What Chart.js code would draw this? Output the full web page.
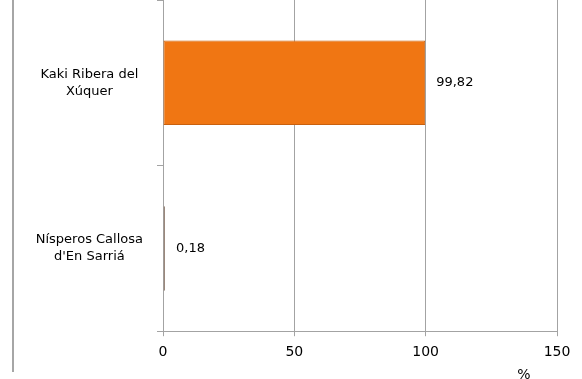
<!DOCTYPE html>
<html>
<head>
<meta charset="utf-8">
<script src="https://cdn.jsdelivr.net/npm/chart.js@4"></script>
<style>
  html, body { margin: 0; padding: 0; background: #fff; }
  #wrap { position: relative; width: 582px; height: 379px; }
  #frame { position: absolute; left: 12px; top: 0; width: 2px; height: 372px; background: #a6a6a6; }
</style>
</head>
<body>
<div id="wrap">
  <div id="frame"></div>
  <canvas id="chart" width="582" height="379"></canvas>
</div>
<script>
// ==========================
// DATA
// ==========================
const categories = [["Kaki Ribera del", "Xúquer"], ["Nísperos Callosa", "d'En Sarriá"]];
const shares = [99.82, 0.18];
const shareLabels = ["99,82", "0,18"];
const xTicks = [0, 50, 100, 150];

const FONT = "DejaVu Sans";
const GRID = "#a3a3a3";

// value labels to the right of each bar + unit label
const valueLabels = {
  id: "valueLabels",
  afterDatasetsDraw(chart) {
    const { ctx } = chart;
    const meta = chart.getDatasetMeta(0);
    ctx.save();
    ctx.font = "13px '" + FONT + "'";
    ctx.fillStyle = "#000";
    ctx.textAlign = "left";
    ctx.textBaseline = "middle";
    meta.data.forEach((bar, i) => {
      ctx.fillText(shareLabels[i], bar.x + 11, bar.y);
    });
    // axis unit
    ctx.textAlign = "center";
    ctx.font = "14px '" + FONT + "'";
    ctx.fillText("%", chart.chartArea.right - 33, 375);
    ctx.restore();
  },
};

new Chart(document.getElementById("chart"), {
  type: "bar",
  data: {
    labels: categories,
    datasets: [
      {
        data: shares,
        backgroundColor: ["#F07613", "#A8968A"],
        borderColor: ["#C9600E", "#9A887C"],
        borderWidth: 1,
        borderSkipped: false,
        minBarLength: 2,
        categoryPercentage: 1,
        barPercentage: 0.51,
      },
    ],
  },
  options: {
    indexAxis: "y",
    responsive: false,
    animation: false,
    layout: { padding: { top: 0, right: 25, bottom: 10, left: 0 } },
    plugins: {
      legend: { display: false },
      tooltip: { enabled: false },
    },
    scales: {
      x: {
        min: 0,
        max: 150,
        afterBuildTicks: (axis) => {
          axis.ticks = xTicks.map((v) => ({ value: v }));
        },
        grid: { color: GRID, tickLength: 5, lineWidth: 1 },
        border: { color: GRID },
        ticks: {
          color: "#000",
          padding: 8,
          font: { family: FONT, size: 14 },
        },
      },
      y: {
        afterFit: (axis) => {
          axis.width = 163;
          axis.paddingTop = 0;
          axis.paddingBottom = 0;
        },
        grid: { color: GRID, drawOnChartArea: false, tickLength: 6 },
        border: { color: GRID },
        ticks: {
          color: "#000",
          crossAlign: "center",
          padding: 14,
          font: { family: FONT, size: 13, lineHeight: 1.3 },
        },
      },
    },
  },
  plugins: [valueLabels],
});
</script>
</body>
</html>
